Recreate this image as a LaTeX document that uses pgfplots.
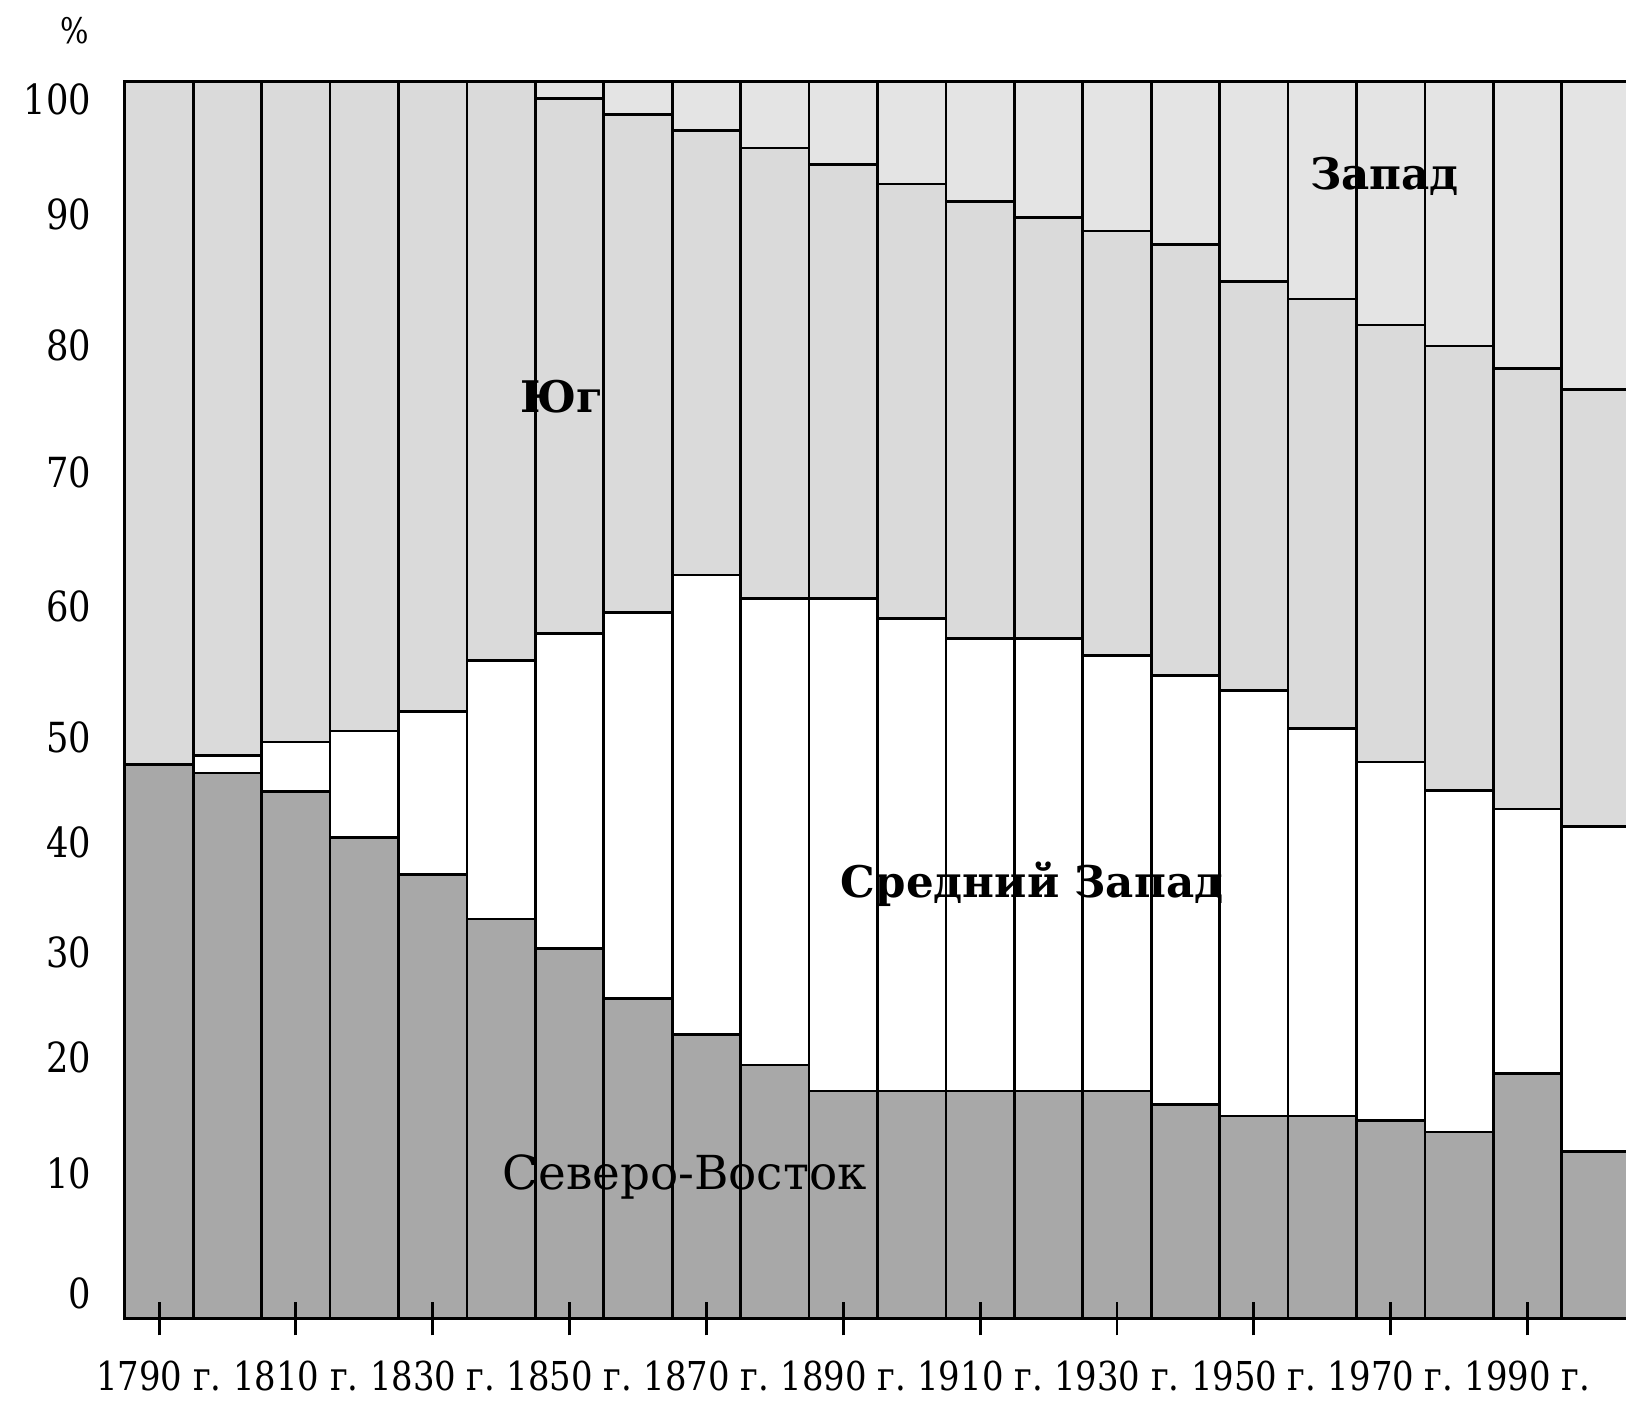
\documentclass[border=0pt]{standalone}
\usepackage{fontspec}
\setmainfont{DejaVu Serif}[FakeStretch=0.85]
\newfontfamily\labelfont{DejaVu Serif}
\usepackage{pgfplots}
\usepackage{pgfplotstable}
\pgfplotsset{compat=1.18}
\definecolor{ne}{HTML}{A8A8A8}
\definecolor{so}{HTML}{DADADA}
\definecolor{we}{HTML}{E4E4E4}
\pgfplotstableread{
i   year NE   MW   S    W
0   1790 44.8 0.0  55.2 0.0
1   1800 44.1 1.4  54.5 0.0
2   1810 42.6 4.0  53.4 0.0
3   1820 38.9 8.6  52.5 0.0
4   1830 35.9 13.2 50.9 0.0
5   1840 32.3 20.9 46.8 0.0
6   1850 29.9 25.5 43.2 1.4
7   1860 25.9 31.2 40.2 2.7
8   1870 23.0 37.1 35.9 4.0
9   1880 20.5 37.7 36.4 5.4
10  1890 18.4 39.8 35.1 6.7
11  1900 18.4 38.2 35.1 8.3
12  1910 18.4 36.6 35.3 9.7
13  1920 18.4 36.6 34.0 11.0
14  1930 18.4 35.2 34.3 12.1
15  1940 17.3 34.7 34.8 13.2
16  1950 16.4 34.4 33.0 16.2
17  1960 16.4 31.3 34.7 17.6
18  1970 16.0 29.0 35.3 19.7
19  1980 15.1 27.6 35.9 21.4
20  1990 19.8 21.4 35.6 23.2
21  2000 13.5 26.3 35.3 24.9
}\datatable
\begin{document}
\begin{tikzpicture}
\useasboundingbox (-30.1pt,-19.8pt) rectangle (361.9pt,317.95pt);
\begin{axis}[
  at={(0,0)}, anchor=south west,
  scale only axis,
  width=362.9pt, height=298.35pt,
  ybar stacked, bar width=1,
  xmin=-0.5, xmax=21.5, ymin=0, ymax=100,
  axis on top,
  axis line style={line width=0.7pt, black},
  xtick={0,2,...,20},
  xticklabels={1790 г.,1810 г.,1830 г.,1850 г.,1870 г.,1890 г.,1910 г.,1930 г.,1950 г.,1970 г.,1990 г.},
  ytick={2.07,11.79,21.09,29.64,38.52,46.98,57.54,68.43,78.65,89.21,98.51},
  yticklabels={0,10,20,30,40,50,60,70,80,90,100},
  tick pos=left,
  xtick align=center,
  major tick length=8pt,
  xtick style={line width=0.7pt, black},
  ytick style={draw=none},
  xticklabel style={font=\fontsize{9.6}{11}\selectfont, yshift=-2.6pt},
  yticklabel style={font=\fontsize{10}{11}\selectfont, xshift=-4.6pt},
  /pgf/number format/assume math mode=true,
  every axis plot/.append style={draw=black, line width=0.65pt},
]
\addplot[fill=ne] table[x=i, y=NE] {\datatable};
\addplot[fill=white] table[x=i, y=MW] {\datatable};
\addplot[fill=so] table[x=i, y=S] {\datatable};
\addplot[fill=we] table[x=i, y=W] {\datatable};
\coordinate (lw) at (axis cs:17.91,92.3);
\coordinate (ls) at (axis cs:5.88,74.55);
\coordinate (lm) at (axis cs:12.76,35.08);
\coordinate (ln) at (axis cs:7.68,11.45);
\coordinate (lp) at (rel axis cs:0,1);
\end{axis}
\node[font=\labelfont\fontsize{10.5}{12}\selectfont\bfseries] at (lw) {Запад};
\node[font=\labelfont\fontsize{10.5}{12}\selectfont\bfseries] at (ls) {Юг};
\node[font=\labelfont\fontsize{10.5}{12}\selectfont\bfseries] at (lm) {Средний Запад};
\node[font=\labelfont\fontsize{11.3}{13}\selectfont] at (ln) {Северо-Восток};
\node[font=\fontsize{8.5}{9}\selectfont] at ([xshift=-12.1pt,yshift=12.3pt]lp) {\%};
\end{tikzpicture}
\end{document}
